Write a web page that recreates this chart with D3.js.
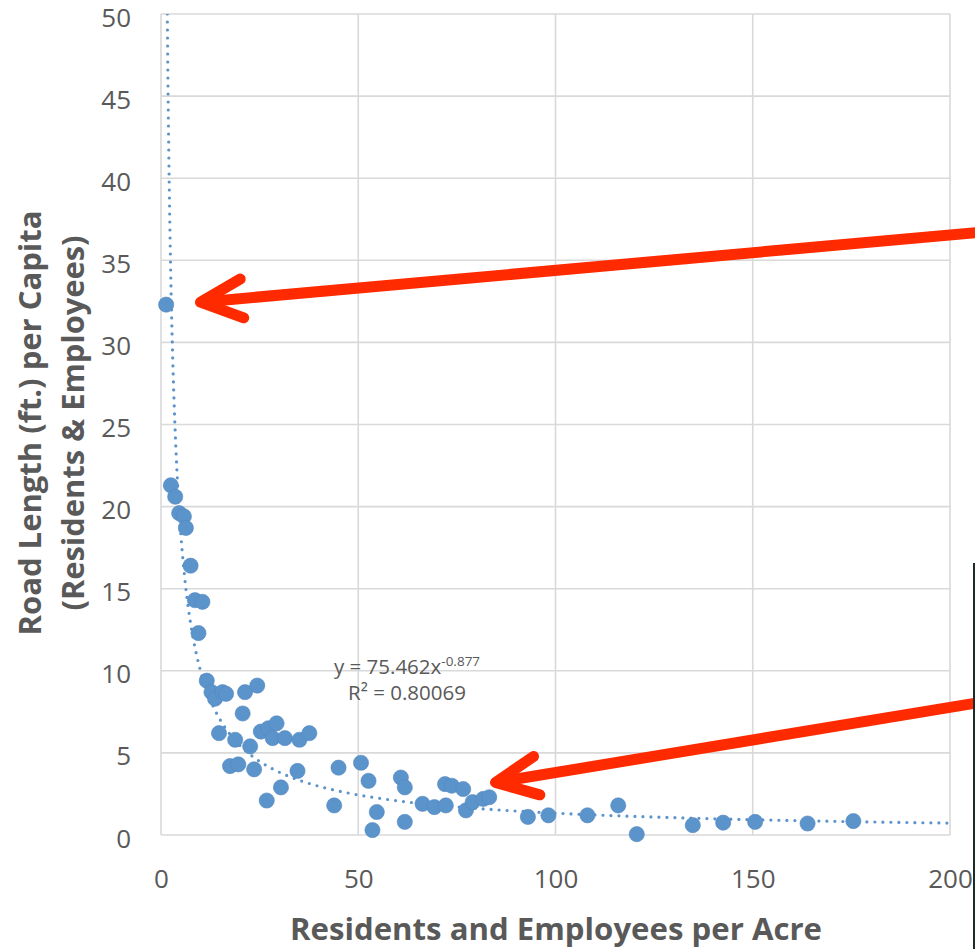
<!DOCTYPE html>
<html>
<head>
<meta charset="utf-8">
<script src="https://cdn.jsdelivr.net/npm/d3@7"></script>
<style>
  html, body { margin: 0; padding: 0; background: #fff; }
  svg { display: block; }
</style>
</head>
<body>
<svg id="chart" width="975" height="949"></svg>
<script>
// ---- data ----
const densityX = [1.3, 2.5, 3.6, 4.6, 5.8, 6.3, 7.5, 8.6, 10.5, 9.5,
  11.6, 12.8, 13.7, 15.6, 16.5, 21.3, 24.4, 20.7, 14.7, 18.8,
  22.6, 25.3, 27.2, 29.3, 28.3, 31.4, 35.1, 37.6, 17.5, 19.6,
  23.6, 26.8, 30.4, 34.6, 43.9, 45.0, 50.7, 52.6, 53.6, 54.7,
  60.8, 61.8, 61.8, 66.3, 69.3, 72.0, 72.2, 73.7, 76.6, 77.3,
  79.0, 81.7, 83.2, 93.0, 98.2, 108.1, 115.9, 120.6, 134.8, 142.5,
  150.6, 163.9, 175.5];
const roadPerCapita = [32.3, 21.3, 20.6, 19.6, 19.4, 18.7, 16.4, 14.3, 14.2, 12.3,
  9.4, 8.7, 8.3, 8.7, 8.6, 8.7, 9.1, 7.4, 6.2, 5.8,
  5.4, 6.3, 6.5, 6.8, 5.9, 5.9, 5.8, 6.2, 4.2, 4.3,
  4.0, 2.1, 2.9, 3.9, 1.8, 4.1, 4.4, 3.3, 0.3, 1.4,
  3.5, 2.9, 0.8, 1.9, 1.7, 3.1, 1.8, 3.0, 2.8, 1.5,
  2.0, 2.2, 2.3, 1.1, 1.2, 1.2, 1.8, 0.05, 0.6, 0.75,
  0.8, 0.7, 0.85];
const xTickValues = [0, 50, 100, 150, 200];
const yTickValues = [0, 5, 10, 15, 20, 25, 30, 35, 40, 45, 50];
const trendA = 75.462;
const trendB = -0.877;
const trendR2 = "0.80069";
const xTitle = "Residents and Employees per Acre";
const yTitleLines = ["Road Length (ft.) per Capita", "(Residents & Employees)"];
// arrow annotations in data units: [tipX, tipY, tailX, tailY]
const arrows = [
  [10.0, 32.45, 212, 36.8],
  [84.8, 3.2, 212, 8.25]
];

(function draw() {
  const svg = d3.select("#chart");
  const pL = 161, pR = 950, pT = 14, pB = 835;
  const x = d3.scaleLinear().domain([0, 200]).range([pL, pR]);
  const y = d3.scaleLinear().domain([0, 50]).range([pB, pT]);
  const textColor = "#595959";
  const gridColor = "#d9d9d9";
  const blue = "#5b93cb";
  const red = "#ff2a00";
  const font = "'Open Sans', sans-serif";

  // gridlines
  const grid = svg.append("g");
  grid.selectAll("line.h").data(yTickValues).join("line").attr("class", "h")
    .attr("x1", pL).attr("x2", pR)
    .attr("y1", d => y(d)).attr("y2", d => y(d))
    .attr("stroke", gridColor).attr("stroke-width", 1.6);
  grid.selectAll("line.v").data(xTickValues).join("line").attr("class", "v")
    .attr("y1", pT).attr("y2", pB)
    .attr("x1", d => x(d)).attr("x2", d => x(d))
    .attr("stroke", gridColor).attr("stroke-width", 1.6);

  // axes (labels only)
  const yAxis = d3.axisLeft(y).tickValues(yTickValues).tickSize(0).tickPadding(0);
  const gy = svg.append("g").attr("transform", "translate(131,0)").call(yAxis);
  gy.select(".domain").remove();
  gy.selectAll("text").attr("font-family", font).attr("font-size", 26)
    .attr("fill", textColor).attr("dy", null)
    .attr("y", 12).attr("x", 0);

  const xAxis = d3.axisBottom(x).tickValues(xTickValues).tickSize(0).tickPadding(0);
  const gx = svg.append("g").call(xAxis);
  gx.select(".domain").remove();
  gx.selectAll("text").attr("font-family", font).attr("font-size", 26)
    .attr("fill", textColor).attr("dy", null).attr("y", 888);

  // trendline (power fit), clipped to plot area
  svg.append("clipPath").attr("id", "plotclip").append("rect")
    .attr("x", pL).attr("y", pT).attr("width", pR - pL).attr("height", pB - pT);
  const xStart = Math.pow(50 / trendA, 1 / trendB);
  const trendPts = d3.range(0, 401).map(i => {
    const xv = xStart * Math.pow(200 / xStart, i / 400);
    return [xv, trendA * Math.pow(xv, trendB)];
  });
  svg.append("path")
    .datum(trendPts)
    .attr("clip-path", "url(#plotclip)")
    .attr("d", d3.line().x(d => x(d[0])).y(d => y(d[1])))
    .attr("fill", "none").attr("stroke", blue).attr("stroke-width", 3.2)
    .attr("stroke-linecap", "round").attr("stroke-dasharray", "0,8");

  // points
  const pts = densityX.map((d, i) => [d, roadPerCapita[i]]);
  svg.append("g").selectAll("circle").data(pts).join("circle")
    .attr("cx", d => x(d[0])).attr("cy", d => y(d[1])).attr("r", 7.6)
    .attr("fill", blue).attr("stroke", "#5588c0").attr("stroke-width", 0.6);

  // equation label
  const eq = svg.append("text").attr("x", 407).attr("y", 674)
    .attr("text-anchor", "middle").attr("font-family", font)
    .attr("font-size", 20.5).attr("fill", textColor);
  eq.append("tspan").text(`y = ${trendA}x`);
  eq.append("tspan").attr("dy", -8).attr("font-size", 13.5).text(String(trendB));
  svg.append("text").attr("x", 407).attr("y", 700)
    .attr("text-anchor", "middle").attr("font-family", font)
    .attr("font-size", 20.5).attr("fill", textColor)
    .text(`R² = ${trendR2}`);

  // axis titles
  svg.append("text").attr("x", 556).attr("y", 940)
    .attr("text-anchor", "middle").attr("font-family", font).attr("font-weight", 700)
    .attr("font-size", 31).attr("fill", textColor)
    .attr("textLength", 532).attr("lengthAdjust", "spacingAndGlyphs")
    .text(xTitle);
  const yTitleX = [41, 84];
  const yTitleLen = [425, 375];
  yTitleLines.forEach((t, i) => {
    svg.append("text")
      .attr("transform", `translate(${yTitleX[i]},423) rotate(-90)`)
      .attr("text-anchor", "middle").attr("font-family", font).attr("font-weight", 700)
      .attr("font-size", 31).attr("fill", textColor)
      .attr("textLength", yTitleLen[i]).attr("lengthAdjust", "spacingAndGlyphs")
      .text(t);
  });

  // red arrows
  const ag = svg.append("g").attr("stroke", red).attr("fill", "none")
    .attr("stroke-width", 11).attr("stroke-linecap", "round").attr("stroke-linejoin", "round");
  arrows.forEach(a => {
    const tx = x(a[0]), ty = y(a[1]), ex = x(a[2]), ey = y(a[3]);
    const ang = Math.atan2(ey - ty, ex - tx);
    const wing = 46, spread = 25 * Math.PI / 180;
    const w1 = [tx + wing * Math.cos(ang - spread), ty + wing * Math.sin(ang - spread)];
    const w2 = [tx + wing * Math.cos(ang + spread), ty + wing * Math.sin(ang + spread)];
    ag.append("line").attr("x1", tx + 3 * Math.cos(ang)).attr("y1", ty + 3 * Math.sin(ang))
      .attr("x2", ex).attr("y2", ey).attr("stroke-linecap", "butt");
    ag.append("path").attr("d", d3.line()([w1, [tx, ty], w2]));
  });

  // dark strip at the right edge of the photo
  svg.append("rect").attr("x", 973).attr("y", 563).attr("width", 2).attr("height", 386)
    .attr("fill", "#1d2a2a");
})();
</script>
</body>
</html>
